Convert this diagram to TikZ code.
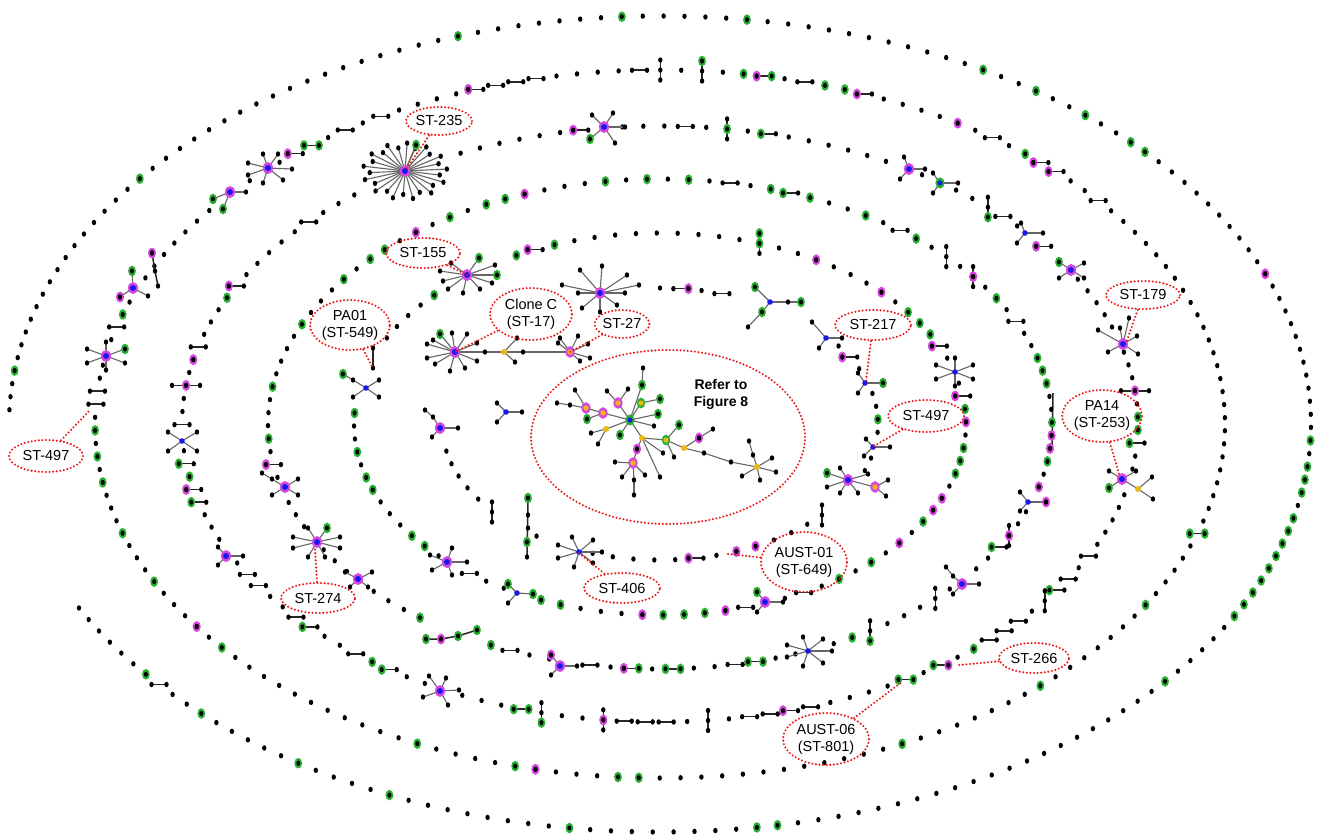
\documentclass[tikz,border=0pt]{standalone}
\usepackage{fontspec}
\setmainfont{Liberation Sans}
\usetikzlibrary{shapes.geometric}
\definecolor{grn}{RGB}{40,175,50}
\definecolor{mag}{RGB}{215,70,225}
\definecolor{blu}{RGB}{25,25,235}
\definecolor{yel}{RGB}{235,185,20}
\definecolor{lred}{RGB}{235,25,25}
\tikzset{
 spoke/.style={draw=black!60, line width=1.1pt},
 link/.style={draw=black!85, line width=1.5pt},
 leader/.style={draw=lred, line width=2.3pt, dash pattern=on 0pt off 3.6pt, line cap=round},
 lab/.style={ellipse, leader, inner sep=0pt, align=center, text=black, font=\fontsize{14.5}{17}\selectfont},
}
\newcommand\bdot[2]{\fill[black] ({#1},{#2}) ellipse [x radius=2.2, y radius=2.7];}
\newcommand\gdot[2]{\fill[grn] ({#1},{#2}) ellipse [x radius=3.9, y radius=5.3];\fill[black] ({#1},{#2}) ellipse [x radius=2, y radius=2.6];}
\newcommand\mdot[2]{\fill[mag] ({#1},{#2}) ellipse [x radius=4.1, y radius=5.5];\fill[black] ({#1},{#2}) ellipse [x radius=2.2, y radius=2.8];}
\makeatletter
\def\dt@b#1#2{\bdot{#1}{#2}}
\def\dt@g#1#2{\gdot{#1}{#2}}
\def\dt@m#1#2{\mdot{#1}{#2}}
\def\dt@y#1#2{\fill[yel] ({#1},{#2}) circle [radius=3];}
\def\dt@gy#1#2{\fill[grn] ({#1},{#2}) ellipse [x radius=4.2, y radius=5.4];\fill[yel] ({#1},{#2}) circle [radius=2.6];}
\def\dt@my#1#2{\fill[mag] ({#1},{#2}) ellipse [x radius=4.6, y radius=5.8];\fill[yel] ({#1},{#2}) circle [radius=2.7];}
\def\dt@bm#1#2{\fill[mag] ({#1},{#2}) ellipse [x radius=5, y radius=6];\fill[blu] ({#1},{#2}) circle [radius=3];}
\def\dt@bg#1#2{\fill[grn] ({#1},{#2}) ellipse [x radius=4.6, y radius=5.6];\fill[blu] ({#1},{#2}) circle [radius=2.6];}
\def\dt@bb#1#2{\fill[blu] ({#1},{#2}) circle [radius=2.8];}
\def\dub#1#2#3#4{\draw[link] ({#1-7.5},{#2})--({#1+7.5},{#2});\csname dt@#3\endcsname{#1-7.5}{#2}\csname dt@#4\endcsname{#1+7.5}{#2}}
\def\vtri#1#2#3#4#5{\draw[link] ({#1},{#2-10})--({#1},{#2+10});\csname dt@#3\endcsname{#1}{#2-10}\csname dt@#4\endcsname{#1}{#2}\csname dt@#5\endcsname{#1}{#2+10}}
\def\it@g#1#2{\gdot{#1}{#2}}
\def\it@m#1#2{\mdot{#1}{#2}}
\def\it@x#1#2{}
\def\it@d#1#2{\dub{#1}{#2}bb}
\def\it@G#1#2{\dub{#1}{#2}gb}
\def\it@R#1#2{\dub{#1}{#2}bg}
\def\it@M#1#2{\dub{#1}{#2}mb}
\def\it@N#1#2{\dub{#1}{#2}bm}
\def\it@H#1#2{\dub{#1}{#2}gg}
\def\it@Q#1#2{\dub{#1}{#2}gm}
\def\it@K#1#2{\dub{#1}{#2}mg}
\def\it@L#1#2{\draw[link] ({#1-14},{#2})--({#1+14},{#2});\bdot{#1-14}{#2}\bdot{#1+14}{#2}\mdot{#1}{#2}}
\def\it@V#1#2{\vtri{#1}{#2}bbb}
\def\it@W#1#2{\vtri{#1}{#2}bgb}
\def\it@B#1#2{\vtri{#1}{#2}bbg}
\def\it@T#1#2{\vtri{#1}{#2}gbb}
\def\it@U#1#2{\vtri{#1}{#2}ggb}
\def\it@Y#1#2{\vtri{#1}{#2}bmb}
\def\it@v#1#2{\draw[link] ({#1},{#2-8})--({#1},{#2+8});\bdot{#1}{#2-8}\bdot{#1}{#2+8}}
\newcommand\ctr[3]{\csname dt@#1\endcsname{#2}{#3}}
\makeatother
\newcommand\setring[6]{\def\Rx{#1}\def\Ry{#2}\def\Tz{#3}\def\Dt{#4}\def\Nn{#5}\def\Ns{#6}}
\newcommand\reg[4]{%
 \pgfmathsetmacro\Ang{atan2((424-(#3))/\Ry,((#2)-660)/\Rx)}%
 \pgfmathtruncatemacro\kk{mod(round(mod(\Tz-\Ang+720,360)/\Dt),\Ns)}%
 \expandafter\xdef\csname R#1@\kk\endcsname{#4}}
\newcommand\reglist[2]{\foreach \Tq/\xx/\yy in {#2}{\reg{#1}{\xx}{\yy}{\Tq}}}
\newcommand\drawring[1]{\foreach \k in {0,...,\Nn}{%
  \pgfmathsetmacro\Ang{\Tz-\k*\Dt}%
  \pgfmathsetmacro\Px{660+\Rx*cos(\Ang)}%
  \pgfmathsetmacro\Py{424-\Ry*sin(\Ang)}%
  \ifcsname R#1@\k\endcsname
    \edef\Tp{\csname R#1@\k\endcsname}%
    \csname it@\Tp\endcsname{\Px}{\Py}%
  \else\bdot{\Px}{\Py}\fi}}
\newcommand\spk[4]{\foreach \sx/\sy/\lc in {#4}{\draw[spoke] ({#1},{#2})--({#1+(\sx)},{#2+(\sy)});\ctr{\lc}{#1+(\sx)}{#2+(\sy)}}\ctr{#3}{#1}{#2}}
\begin{document}
\begin{tikzpicture}[x=1pt,y=-1pt]
\fill[white] (0,0) rectangle (1323,836);
\useasboundingbox (0,0) rectangle (1323,836);
% ---------- ring 1 (outer, open at left)
\setring{651}{408}{178}{1.84}{180}{1000}
\reglist{A}{g/14/369, g/136/182, g/467/34, g/617/17, g/748/20, g/974/67, g/1029/88, g/1081/113, g/1129/140, g/1144/151, m/1269/277, g/1312/437, g/1309/465, g/1306/479, g/1303/492, g/1295/518, g/1289/532, g/1283/545, g/1276/558, g/1268/571, g/1261/583, g/1252/595, g/1243/608, g/1232/620, g/1172/677, g/768/827, g/748/828, g/573/828, g/386/793, g/293/760, g/207/717, g/149/677, d/164/687}
\drawring{A}
% ---------- ring 2
\setring{565}{354}{94.2}{2.1176}{169}{170}
\reglist{B}{g/125/313, g/95/425, g/97/452, g/102/478, g/122/532, g/155/583, m/200/629, g/226/651, g/414/742, g/516/766, m/537/769, g/623/777, g/645/778, g/898/745, g/1043/684, g/1151/600, H/1196/537, M/1042/163, M/1059/173, d/1102/203, g/1026/154, d/992/137, m/956/123, M/858/93, g/837/88, g/816/84, d/795/80, K/774/78, g/752/75, T/703/71, V/669/70, d/641/70, d/533/79, d/512/83, d/491/87, M/470/91, d/372/119, H/353/127, d/337/134, H/317/143, M/300/152, x/268/168, x/230/192, x/213/204, x/133/288, x/106/356, d/117/332, d/97/394, d/97/407}
\drawring{B}
% ---------- ring 3
\setring{478}{298}{92}{2.5175}{142}{143}
\reglist{C}{x/604/127, M/570/130, d/688/125, W/737/127, G/765/132, x/909/169, x/940/183, B/990/207, d/1010/214, x/1025/233, M/1050/246, x/1059/262, x/1071/270, x/1123/344, L/1144/386, g/1139/417, g/1139/430, G/1138/443, x/1122/479, d/1092/555, d/1070/579, G/1059/591, V/1043/605, d/1024/619, d/1010/629, d/995/639, g/979/648, Q/945/666, H/909/681, d/810/709, M/790/713, d/768/715, d/746/718, V/698/723, d/670/723, d/647/723, d/626/723, Y/598/722, B/543/715, H/516/710, x/440/691, G/390/672, g/372/663, d/356/655, G/302/627, d/288/617, d/257/584, d/245/572, x/226/556, G/190/499, M/185/486, g/188/473, G/185/459, x/182/441, d/182/423, L/185/387, m/193/357, d/200/343, g/230/293, M/240/280, d/303/225, x/371/186, x/388/179, x/405/171, x/423/165, x/442/159}
\drawring{C}
% ---------- ring 4
\draw[link] (1053,393)--(1052,450);
\setring{392}{245}{91.9}{3.0508}{117}{118}
\reglist{D}{g/603/181, m/519/196, g/499/200, g/480/206, g/443/220, m/408/236, g/391/245, g/376/254, g/347/276, g/303/323, g/272/388, g/268/434, M/273/462, x/285/487, x/317/542, x/358/579, g/427/621, x/437/625, x/455/633, x/472/639, g/485/643, d/505/649, x/560/666, d/597/666, K/640/669, H/666/669, d/727/666, H/748/664, x/808/651, g/847/639, B/872/631, V/933/601, x/962/584, G/996/551, Y/1010/535, x/1028/502, m/1042/483, g/1049/458, m/1052/448, m/1052/438, g/1053/422, g/1048/387, g/1044/374, g/1038/360, d/1017/322, g/997/297, Y/982/280, V/947/256, g/910/234, d/893/226, g/874/218, g/816/199, G/797/193, g/776/190, d/735/183, g/690/180, g/647/179}
\drawring{D}
% ---------- ring 5
\setring{306}{191}{90.6}{3.913}{91}{92}
\reglist{E}{g/549/246, M/530/251, g/516/255, x/498/262, x/481/269, x/464/277, x/449/286, g/431/297, x/378/349, x/373/358, x/364/374, x/366/388, x/356/399, g/355/418, g/357/446, g/365/473, g/371/485, g/410/534, g/423/545, x/447/562, d/477/576, x/517/593, g/549/602, g/569/607, m/632/614, g/654/616, g/676/616, g/698/613, m/719/612, d/740/608, x/765/602, d/802/595, g/835/582, g/868/564, m/898/544, g/923/523, m/934/510, m/943/498, g/957/472, g/961/459, g/965/445, m/967/427, g/966/410, M/963/397, x/955/372, M/941/349, g/933/337, g/922/324, g/910/313, m/883/290, m/814/258, U/769/243}
\drawring{E}
% ---------- ring 6 (inner, open)
\setring{218}{136}{90}{5.5}{48}{1000}
\reglist{F}{N/684/288, d/726/292, x/742/298, x/761/303, x/779/310, x/796/318, x/811/330, x/826/338, M/849/353, x/865/383, g/879/415, x/873/447, x/848/480, x/847/494, x/835/505, V/823/512, m/748/549, m/728/554, M/706/558, x/578/550, x/559/545, x/528/527, x/510/518, x/492/512, x/443/440}
\drawring{F}
% ---------- explicit groups on the rings
\draw[link] (152,253)--(155,271)--(158,286); \mdot{152}{253}\bdot{155}{271}\bdot{158}{286}
\draw[link] (426,639)--(441,639)--(458,636)--(477,630); \gdot{426}{639}\mdot{441}{639}\gdot{458}{636}\gdot{477}{630}
\draw[link] (373,348)--(373,368); \bdot{373}{348}\bdot{373}{368}
\draw[link] (528,498)--(527,557); \gdot{528}{498}\bdot{528}{515}\bdot{528}{528}\gdot{527}{542}\bdot{527}{557}
\draw[link] (492,502)--(492,522); \bdot{492}{502}\bdot{492}{512}\bdot{492}{522}
% big star ST-235
\foreach \i in {0,...,25}{\pgfmathsetmacro\ba{\i*360/26+4}\pgfmathsetmacro\bfac{mod(\i,2)==0?1:0.84}%
  \draw[spoke] (405,171)--({405+42*\bfac*cos(\ba)},{171-28*\bfac*sin(\ba)});\bdot{405+42*\bfac*cos(\ba)}{171-28*\bfac*sin(\ba)}}
\draw[spoke] (405,171)--(416,145); \gdot{416}{145}
\ctr{bm}{405}{171}
\spk{268}{168}{bm}{-20/-5/b,-20/7/b,-5/-14/b,10/-14/b,24/1/b,-5/15/b,15/12/b}
\spk{230}{192}{bm}{-17/7/g,-7/17/g,16/0/b}
\spk{133}{288}{bm}{-1/-17/g,-13/9/m,15/8/b}
\spk{106}{356}{bm}{-19/-7/b,-19/7/b,0/-14/b,0/14/b,19/7/b,19/-7/g}
\spk{604}{127}{bm}{-12/-12/b,9/-14/b,21/0/b,11/16/b,-14/12/g}
\spk{909}{169}{bm}{-5/-12/b,16/0/b,-9/10/b}
\spk{940}{183}{bg}{-7/-10/b,18/0/b,-7/10/b}
\spk{1025}{233}{bb}{-4/-10/b,18/0/b,-8/10/b}
\spk{1071}{270}{bm}{-12/-8/g,13/-7/b,-12/8/b,13/8/b}
\spk{1123}{344}{bm}{-25/-14/b,-15/8/b,6/-26/b,14/-8/b,15/10/b,-3/-16/b}
\draw[spoke] (1122,479)--(1138,489);
\spk{1138}{489}{y}{14/-12/b,15/10/b}
\spk{1122}{479}{bm}{-13/-8/b,-13/9/g,14/-8/b}
\spk{182}{441}{bb}{-14/-9/b,15/-9/b,-14/10/b,15/10/b}
\spk{226}{556}{bm}{-8/-9/b,-8/9/b,17/0/b}
\spk{440}{691}{bm}{-11/-15/b,6/-13/b,19/-1/b,-17/6/b,8/14/b}
\draw[spoke] (272,479)--(262,473); \bdot{262}{473}
\spk{285}{487}{bm}{-13/-8/b,13/-8/b,13/8/b,-13/8/b}
\spk{317}{542}{bm}{-24/-5/b,-24/6/b,-9/-14/b,10/-14/g,23/-5/b,23/6/b,-9/15/b,8/15/b}
\spk{358}{579}{bm}{-13/-7/b,14/-7/b,-8/8/b,10/8/b}
\spk{560}{666}{bm}{-9/-11/m,17/0/b,-9/9/b}
\spk{808}{651}{bb}{-21/-6/b,-21/6/b,-5/-14/b,-5/15/b,15/-12/b,15/12/b,24/0/b}
\draw[spoke] (953,576)--(946,567); \bdot{946}{567}
\spk{962}{584}{bm}{-9/-8/b,17/0/b,-9/10/b}
\spk{1028}{502}{bb}{-8/-10/b,18/0/m,-8/9/b}
\spk{467}{275}{bm}{-27/-4/b,-24/6/b,-19/14/b,-4/18/b,13/14/b,25/8/b,30/0/g,28/-10/b,12/-17/g,-16/-12/b}
\draw[spoke] (353,380)--(343,374); \gdot{343}{374}
\spk{366}{388}{bb}{-13/-8/b,13/-8/b,-13/9/b,13/9/b}
\spk{447}{562}{bm}{-17/-7/b,-15/8/b,5/-14/b,20/0/b,5/13/b}
\spk{517}{593}{bb}{-9/-9/g,16/1/g,-9/10/b}
\spk{765}{602}{bm}{-8/-10/g,18/0/b,-8/10/b}
\spk{955}{372}{bb}{-19/-7/b,-19/7/b,0/-14/b,0/14/b,18/-7/b,18/7/b}
\draw[spoke] (770,302)--(801,302); \gdot{801}{302}
\draw[spoke] (762,312)--(748,327); \bdot{748}{327}
\spk{770}{302}{bb}{-15/-15/g,-8/10/g,18/0/b}
\spk{826}{338}{bb}{-14/-16/b,-7/10/b,16/0/b}
\spk{865}{383}{bb}{-7/-10/b,-7/10/b,18/0/g}
\spk{873}{447}{bb}{-7/-8/b,-9/9/b,17/0/b}
\draw[spoke] (848,480)--(875,487);
\spk{875}{487}{my}{13/-7/b,11/9/b}
\spk{848}{480}{bm}{-21/-7/g,-21/7/b,-8/-12/b,-8/13/b,10/13/b,20/-6/b}
\spk{579}{552}{bb}{-21/-7/b,-21/6/b,-7/-15/b,14/-12/b,23/0/b,14/11/b,-5/15/b}
\draw[spoke] (433,417)--(425,410); \bdot{425}{410}
\spk{440}{428}{bm}{-7/-11/b,18/0/b,-8/9/b}
\spk{506}{412}{bb}{-9/-9/b,-9/10/b,16/0/b}
% ---------- Clone C / ST-27 group
\draw[spoke] (455,352)--(570,352);
\bdot{485}{352}\bdot{523}{352}
\spk{504}{352}{y}{13/-14/b,11/10/b}
\spk{455}{352}{bm}{-28/-8/b,-28/6/b,-20/12/b,-5/19/b,10/16/b,22/9/b,22/-9/b,12/-18/b,-3/-19/b,-15/-18/g,-22/-12/b}
\spk{570}{352}{my}{-12/-9/b,-10/-14/b,8/-16/b,18/-8/b,20/6/b,10/9/b}
\spk{600}{293}{bm}{-38/-8/b,-20/-23/b,2/-27/b,27/-18/b,39/-8/b,25/0/b,-22/0/b,-18/15/b,0/19/b,17/12/b}
% ---------- Figure 8 group
\foreach \a/\b/\c/\d in {630/420/642/385, 642/385/643/368, 630/420/641/403, 641/403/660/399, 630/420/658/414, 630/420/654/426, 630/420/618/403, 618/403/607/391, 618/403/628/389, 630/420/603/413, 603/413/586/408, 586/408/570/405, 570/405/557/403, 586/408/575/390, 603/413/587/419, 630/420/606/429, 606/429/591/433, 606/429/598/444, 630/420/620/435, 630/420/642/438, 642/438/637/449, 637/449/633/463, 633/463/615/462, 633/463/622/477, 633/463/634/480, 634/480/634/495, 633/463/645/475, 642/438/663/453, 642/438/660/477, 642/438/666/440, 666/440/679/425, 666/440/674/457, 666/440/684/448, 684/448/699/438, 699/438/713/429, 684/448/704/453, 704/453/731/462, 731/462/757/467, 757/467/753/455, 753/455/749/441, 757/467/772/458, 757/467/776/472, 757/467/760/480, 757/467/742/476}{\draw[spoke] (\a,\b)--(\c,\d);}
\foreach \a/\b/\t in {642/385/g, 643/368/b, 641/403/gy, 660/399/g, 658/414/g, 654/426/b, 618/403/my, 607/391/b, 628/389/b, 603/413/my, 586/408/my, 570/405/b, 557/403/b, 575/390/b, 587/419/g, 606/429/y, 591/433/b, 598/444/b, 620/435/g, 642/438/y, 637/449/m, 633/463/my, 615/462/b, 622/477/b, 634/480/b, 634/495/b, 645/475/b, 663/453/b, 660/477/b, 666/440/gy, 679/425/g, 674/457/b, 684/448/y, 699/438/m, 713/429/b, 704/453/b, 731/462/b, 757/467/y, 753/455/b, 749/441/b, 772/458/b, 776/472/b, 760/480/b, 742/476/b, 630/420/bg}{\ctr{\t}{\a}{\b}}
% ---------- labels
\coordinate (t235) at (405,171);
\coordinate (t155) at (467,275);
\coordinate (tpa01) at (373,368);
\coordinate (tclc) at (455,352);
\coordinate (t27) at (570,352);
\coordinate (t217) at (866,381);
\coordinate (t179) at (1126,343);
\coordinate (t497r) at (874,446);
\coordinate (tpa14) at (1120,477);
\coordinate (t497l) at (90,410);
\coordinate (t274) at (315,549);
\coordinate (t406) at (579,553);
\coordinate (tau1) at (728,554);
\coordinate (t266) at (959,665);
\coordinate (tau6) at (902,682);
\node[lab, minimum width=64pt, minimum height=28pt] (l235) at (439,121) {ST-235};
\node[lab, minimum width=74pt, minimum height=30pt] (l155) at (423,253) {ST-155};
\node[lab, minimum width=74pt, minimum height=50pt] (lpa01) at (350,325) {PA01\\(ST-549)};
\node[lab, minimum width=82pt, minimum height=52pt] (lclc) at (531,314) {Clone C\\(ST-17)};
\node[lab, minimum width=54pt, minimum height=28pt] (l27) at (622,324) {ST-27};
\node[lab, minimum width=76pt, minimum height=30pt] (l217) at (873,325) {ST-217};
\node[lab, minimum width=74pt, minimum height=28pt] (l179) at (1143,295) {ST-179};
\node[lab, minimum width=76pt, minimum height=32pt] (l497r) at (926,416) {ST-497};
\node[lab, minimum width=76pt, minimum height=52pt] (lpa14) at (1102,416) {PA14\\(ST-253)};
\node[lab, minimum width=74pt, minimum height=32pt] (l497l) at (46,456) {ST-497};
\node[lab, minimum width=74pt, minimum height=30pt] (l274) at (318,598) {ST-274};
\node[lab, minimum width=76pt, minimum height=30pt] (l406) at (622,588) {ST-406};
\node[lab, minimum width=86pt, minimum height=60pt] (lau1) at (804,562) {AUST-01\\(ST-649)};
\node[lab, minimum width=70pt, minimum height=30pt] (l266) at (1034,658) {ST-266};
\node[lab, minimum width=86pt, minimum height=52pt] (lau6) at (826,739) {AUST-06\\(ST-801)};
\node[lab, minimum width=274pt, minimum height=174pt] (lf8) at (668,437) {};
\node[font=\bfseries\fontsize{14}{17}\selectfont, align=center, text=black] (lf8t) at (721,394) {Refer to\\Figure 8};
\draw[leader] (l235) -- (t235);
\draw[leader] (l155) -- (t155);
\draw[leader] (lpa01) -- (tpa01);
\draw[leader] (lclc) -- (tclc);
\draw[leader] (l27) -- (t27);
\draw[leader] (l217) -- (t217);
\draw[leader] (l179) -- (t179);
\draw[leader] (l497r) -- (t497r);
\draw[leader] (lpa14) -- (tpa14);
\draw[leader] (l497l) -- (t497l);
\draw[leader] (l274) -- (t274);
\draw[leader] (l406) -- (t406);
\draw[leader] (lau1) -- (tau1);
\draw[leader] (l266) -- (t266);
\draw[leader] (lau6) -- (tau6);
\end{tikzpicture}
\end{document}
